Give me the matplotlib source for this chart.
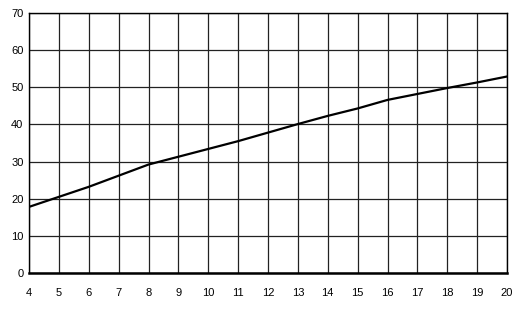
import matplotlib
matplotlib.use("Agg")
import matplotlib.pyplot as plt

# values
x_vals = [4, 5, 6, 7, 8, 9, 10, 11, 12, 13, 14, 15, 16, 17, 18, 19, 20]
y_vals = [17.8, 20.5, 23.2, 26.2, 29.2, 31.3, 33.4, 35.5, 37.8, 40.1,
          42.3, 44.3, 46.6, 48.2, 49.8, 51.3, 52.9]
x_ticks = list(range(4, 21))
y_ticks = list(range(0, 71, 10))

plt.rcParams["font.family"] = ["Liberation Sans", "DejaVu Sans"]

fig = plt.figure(figsize=(5.24, 3.15), dpi=100)
ax = fig.add_axes([29 / 524, 1 - 273 / 315, 478 / 524, 260 / 315])

ax.plot(x_vals, y_vals, color="black", linewidth=1.6, zorder=3)

ax.set_xlim(4, 20)
ax.set_ylim(0, 70)
ax.set_xticks(x_ticks)
ax.set_yticks(y_ticks)
ax.grid(True, color="#222222", linewidth=0.9)
ax.tick_params(length=0, labelsize=8)
ax.tick_params(axis="x", pad=11)
ax.tick_params(axis="y", pad=4)
for side in ["top", "right", "left"]:
    ax.spines[side].set_linewidth(1.0)
ax.spines["bottom"].set_linewidth(1.8)

fig.savefig("out.png", dpi=100)
